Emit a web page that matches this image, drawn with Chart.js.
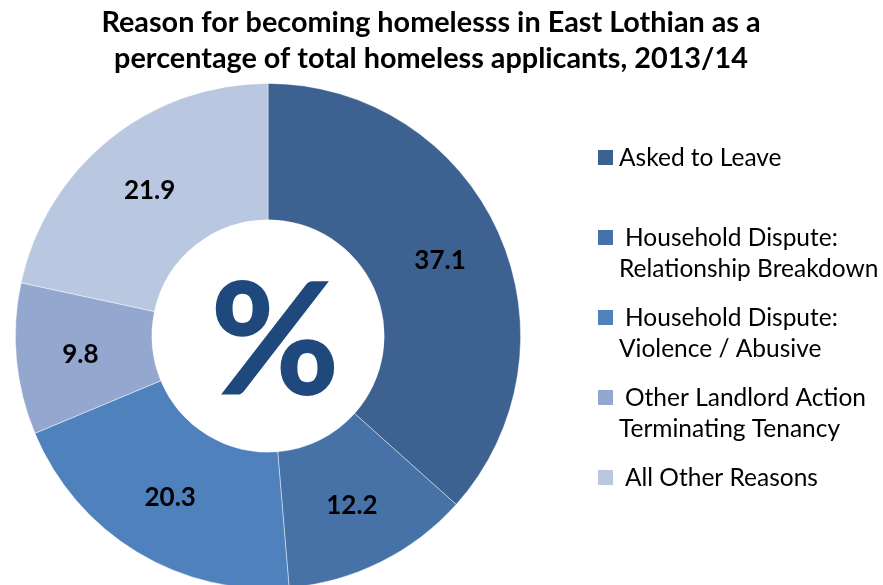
<!DOCTYPE html>
<html>
<head>
<meta charset="utf-8">
<script src="https://cdn.jsdelivr.net/npm/chart.js@4.4.0/dist/chart.umd.min.js"></script>
<style>
  html, body { margin: 0; padding: 0; background: #fff; overflow: hidden; }
  #wrap { width: 883px; height: 585px; overflow: hidden; position: relative; }
  canvas { display: block; }
</style>
</head>
<body>
<div id="wrap"><canvas id="chart" width="883" height="600"></canvas></div>
<script>
// homelessness reasons, East Lothian 2013/14 (% of applicants)
const reasons = [
    ['Asked to Leave'],
    [' Household Dispute:', 'Relationship Breakdown'],
    [' Household Dispute:', 'Violence / Abusive'],
    [' Other Landlord Action', 'Terminating Tenancy'],
    [' All Other Reasons']
];
const shares = [37.1, 12.2, 20.3, 9.8, 21.9];
const sliceColors = ['#3D6190', '#4672A8', '#4F81BD', '#94A8CF', '#B9C7E1'];
const titleLines = [
    'Reason for becoming homelesss in East Lothian as a',
    'percentage of total homeless applicants, 2013/14'
];

const FONT = 'Lato, "Open Sans", sans-serif';

const extras = {
    id: 'extras',
    afterDraw(chart) {
        const ctx = chart.ctx;
        const meta = chart.getDatasetMeta(0);
        ctx.save();

        // title
        ctx.fillStyle = '#000';
        ctx.font = 'bold 28.8px ' + FONT;
        ctx.textAlign = 'center';
        ctx.textBaseline = 'middle';
        titleLines.forEach((t, i) => ctx.fillText(t, 431, 23 + i * 36));

        // values on the slices, a little outside the ring's middle
        ctx.font = 'bold 26px ' + FONT;
        meta.data.forEach((arc, i) => {
            const a = (arc.startAngle + arc.endAngle) / 2;
            const r = (arc.innerRadius + arc.outerRadius) / 2 + 4;
            ctx.fillText(shares[i].toFixed(1), arc.x + Math.cos(a) * r, arc.y + Math.sin(a) * r + 1);
        });

        // big % in the hole
        const c = meta.data[0];
        ctx.font = '900 157px ' + FONT;
        ctx.fillStyle = '#1F497D';
        ctx.textAlign = 'left';
        ctx.textBaseline = 'alphabetic';
        const m = ctx.measureText('%');
        const w = m.actualBoundingBoxLeft + m.actualBoundingBoxRight;
        const h = m.actualBoundingBoxAscent + m.actualBoundingBoxDescent;
        ctx.fillText('%', c.x + 7 - w / 2 + m.actualBoundingBoxLeft,
            c.y + 2 - h / 2 + m.actualBoundingBoxAscent);

        // legend
        ctx.font = '24.5px ' + FONT;
        ctx.textAlign = 'left';
        ctx.textBaseline = 'middle';
        reasons.forEach((lines, i) => {
            const y = 158 + i * 80;
            ctx.fillStyle = sliceColors[i];
            ctx.fillRect(598, y - 8, 15, 15);
            ctx.fillStyle = '#000';
            lines.forEach((t, j) => {
                const x = t.startsWith(' ') ? 625 : 619;
                ctx.fillText(t.trim(), x, y + j * 31);
            });
        });
        ctx.restore();
    }
};

new Chart(document.getElementById('chart'), {
    type: 'doughnut',
    data: {
        labels: reasons.map(r => r.map(s => s.trim()).join(' ')),
        datasets: [{
            data: shares,
            backgroundColor: sliceColors,
            borderColor: 'rgba(255,255,255,0.55)',
            borderWidth: 0.8
        }]
    },
    options: {
        responsive: false,
        animation: false,
        cutout: '46%',
        layout: { padding: { left: 15, right: 362, top: 83, bottom: 11 } },
        plugins: {
            legend: { display: false },
            tooltip: { enabled: false }
        }
    },
    plugins: [extras]
});
</script>
</body>
</html>
